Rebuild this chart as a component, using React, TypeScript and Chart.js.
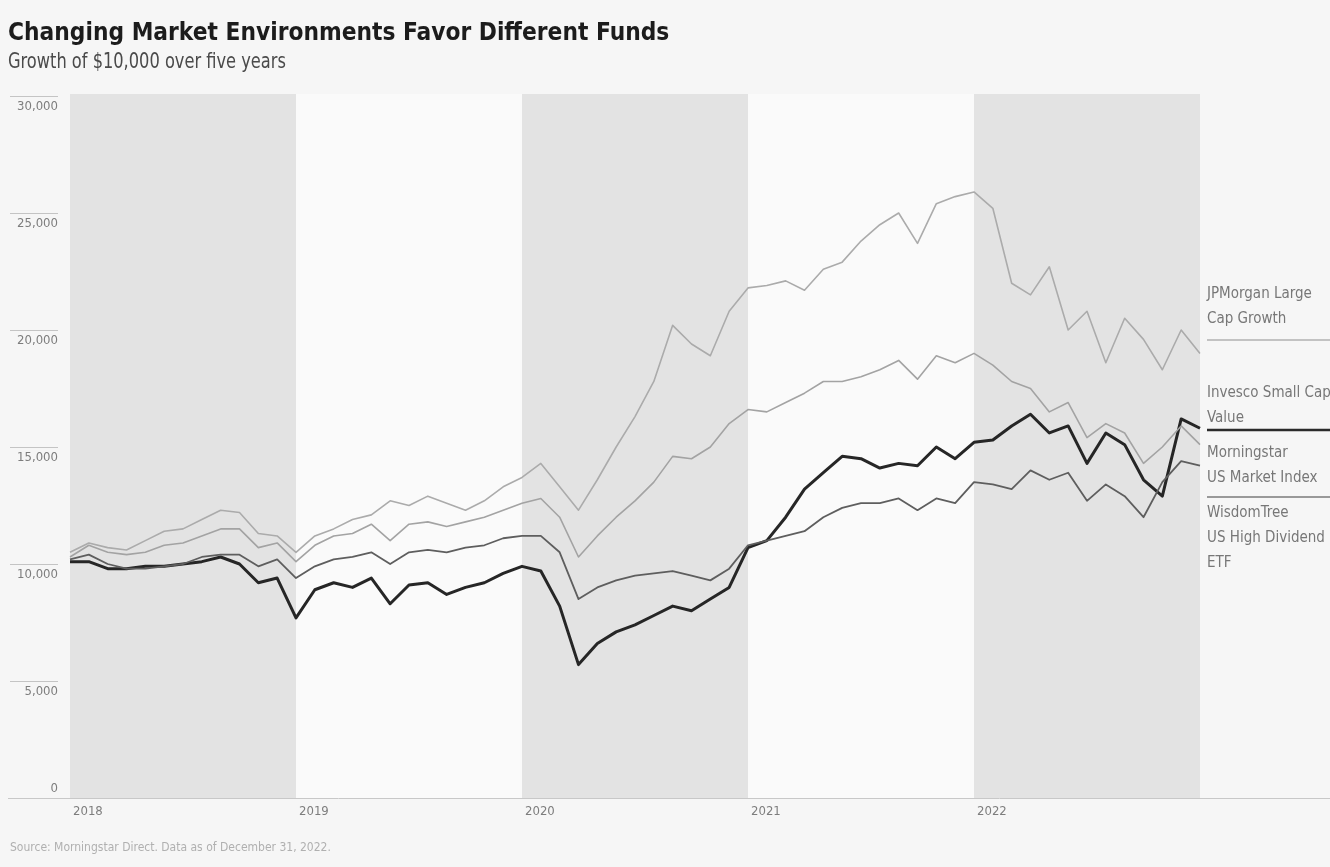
import React, { useEffect, useRef } from "react";
import { Chart, registerables } from "chart.js";

Chart.register(...registerables);

const FONT = '"Liberation Sans Narrow", "DejaVu Sans Condensed", "Roboto Condensed", "Arial Narrow", sans-serif';

const monthLabels = [
  "Dec 2017",
  "Jan 2018", "Feb 2018", "Mar 2018", "Apr 2018", "May 2018", "Jun 2018", "Jul 2018", "Aug 2018", "Sep 2018", "Oct 2018", "Nov 2018", "Dec 2018",
  "Jan 2019", "Feb 2019", "Mar 2019", "Apr 2019", "May 2019", "Jun 2019", "Jul 2019", "Aug 2019", "Sep 2019", "Oct 2019", "Nov 2019", "Dec 2019",
  "Jan 2020", "Feb 2020", "Mar 2020", "Apr 2020", "May 2020", "Jun 2020", "Jul 2020", "Aug 2020", "Sep 2020", "Oct 2020", "Nov 2020", "Dec 2020",
  "Jan 2021", "Feb 2021", "Mar 2021", "Apr 2021", "May 2021", "Jun 2021", "Jul 2021", "Aug 2021", "Sep 2021", "Oct 2021", "Nov 2021", "Dec 2021",
  "Jan 2022", "Feb 2022", "Mar 2022", "Apr 2022", "May 2022", "Jun 2022", "Jul 2022", "Aug 2022", "Sep 2022", "Oct 2022", "Nov 2022", "Dec 2022",
];

const yearLabels = ["2018", "2019", "2020", "2021", "2022"];
const yTickValues = [0, 5000, 10000, 15000, 20000, 25000, 30000];
const yTickLabels = ["0", "5,000", "10,000", "15,000", "20,000", "25,000", "30,000"];

const jpmLargeCapGrowth = [
  10500, 10900, 10700, 10600, 11000, 11400, 11500, 11900, 12300, 12200, 11300, 11200, 10500,
  11200, 11500, 11900, 12100, 12700, 12500, 12900, 12600, 12300, 12700, 13300, 13700,
  14300, 13300, 12300, 13600, 15000, 16300, 17800, 20200, 19400, 18900, 20800, 21800,
  21900, 22100, 21700, 22600, 22900, 23800, 24500, 25000, 23700, 25400, 25700, 25900,
  25200, 22000, 21500, 22700, 20000, 20800, 18600, 20500, 19600, 18300, 20000, 19000,
];

const morningstarUSMarket = [
  10300, 10800, 10500, 10400, 10500, 10800, 10900, 11200, 11500, 11500, 10700, 10900, 10100,
  10800, 11200, 11300, 11700, 11000, 11700, 11800, 11600, 11800, 12000, 12300, 12600,
  12800, 12000, 10300, 11200, 12000, 12700, 13500, 14600, 14500, 15000, 16000, 16600,
  16500, 16900, 17300, 17800, 17800, 18000, 18300, 18700, 17900, 18900, 18600, 19000,
  18500, 17800, 17500, 16500, 16900, 15400, 16000, 15600, 14300, 15000, 15900, 15100,
];

const wisdomTreeHighDividend = [
  10200, 10400, 10000, 9800, 9800, 9900, 10000, 10300, 10400, 10400, 9900, 10200, 9400,
  9900, 10200, 10300, 10500, 10000, 10500, 10600, 10500, 10700, 10800, 11100, 11200,
  11200, 10500, 8500, 9000, 9300, 9500, 9600, 9700, 9500, 9300, 9800, 10800,
  11000, 11200, 11400, 12000, 12400, 12600, 12600, 12800, 12300, 12800, 12600, 13500,
  13400, 13200, 14000, 13600, 13900, 12700, 13400, 12900, 12000, 13500, 14400, 14200,
];

const invescoSmallCapValue = [
  10100, 10100, 9800, 9800, 9900, 9900, 10000, 10100, 10300, 10000, 9200, 9400, 7700,
  8900, 9200, 9000, 9400, 8300, 9100, 9200, 8700, 9000, 9200, 9600, 9900,
  9700, 8200, 5700, 6600, 7100, 7400, 7800, 8200, 8000, 8500, 9000, 10700,
  11000, 12000, 13200, 13900, 14600, 14500, 14100, 14300, 14200, 15000, 14500, 15200,
  15300, 15900, 16400, 15600, 15900, 14300, 15600, 15100, 13600, 12900, 16200, 15800,
];

const legendItems = [
  { lines: ["JPMorgan Large", "Cap Growth"], top: 287, rule: 340, color: "#b0b0b0", width: 1.5 },
  { lines: ["Invesco Small Cap", "Value"], top: 386, rule: 430, color: "#2b2b2b", width: 2.5 },
  { lines: ["Morningstar", "US Market Index"], top: 446, rule: 497, color: "#7a7a7a", width: 1.5 },
  { lines: ["WisdomTree", "US High Dividend", "ETF"], top: 506, rule: 0, color: "#666", width: 0 },
];

const decorPlugin = {
  id: "decor",
  beforeDatasetsDraw(chart: any) {
    const { ctx, chartArea, scales } = chart;
    const xs = scales.x;
    ctx.save();
    for (let k = 0; k < yearLabels.length; k++) {
      const x0 = xs.getPixelForValue(k * 12);
      const x1 = xs.getPixelForValue((k + 1) * 12);
      ctx.fillStyle = k % 2 === 0 ? "#e3e3e3" : "#fafafa";
      ctx.fillRect(x0, chartArea.top - 2, x1 - x0, chartArea.bottom - chartArea.top + 2);
    }
    ctx.restore();
  },
  afterDraw(chart: any) {
    const { ctx, chartArea, scales } = chart;
    const xs = scales.x;
    const ys = scales.y;
    ctx.save();
    // y axis labels
    ctx.font = `13px ${FONT}`;
    ctx.fillStyle = "#7d7d7d";
    ctx.textAlign = "right";
    yTickValues.forEach((v, i) => {
      const y = Math.round(ys.getPixelForValue(v)) + 0.5;
      ctx.strokeStyle = "#c4c4c4";
      ctx.lineWidth = 1;
      ctx.beginPath();
      ctx.moveTo(10, y);
      ctx.lineTo(58, y);
      ctx.stroke();
      if (v === 0) {
        ctx.textBaseline = "bottom";
        ctx.fillText(yTickLabels[i], 58, y - 3);
      } else {
        ctx.textBaseline = "top";
        ctx.fillText(yTickLabels[i], 58, y + 4);
      }
    });
    // x axis line
    const yb = Math.round(chartArea.bottom) + 0.5;
    ctx.strokeStyle = "#c8c8c8";
    ctx.lineWidth = 1;
    ctx.beginPath();
    ctx.moveTo(8, yb);
    ctx.lineTo(1330, yb);
    ctx.stroke();
    // year labels
    ctx.textAlign = "left";
    ctx.textBaseline = "top";
    ctx.fillStyle = "#7d7d7d";
    yearLabels.forEach((lab, k) => {
      const x = xs.getPixelForValue(k * 12);
      ctx.fillText(lab, x + 3, chartArea.bottom + 7);
    });
    // right labels
    ctx.font = `15px ${FONT}`;
    ctx.fillStyle = "#777";
    legendItems.forEach((it) => {
      it.lines.forEach((t, j) => {
        ctx.fillText(t, chartArea.right + 7, it.top + j * 25);
      });
      if (it.rule) {
        ctx.strokeStyle = it.color;
        ctx.lineWidth = it.width;
        ctx.beginPath();
        ctx.moveTo(chartArea.right + 7, it.rule);
        ctx.lineTo(1330, it.rule);
        ctx.stroke();
      }
    });
    // source
    ctx.font = `12px ${FONT}`;
    ctx.fillStyle = "#b0b0b0";
    ctx.fillText("Source: Morningstar Direct. Data as of December 31, 2022.", 10, 842);
    ctx.restore();
  },
};

export default function App() {
  const canvasRef = useRef<HTMLCanvasElement | null>(null);

  useEffect(() => {
    document.body.style.margin = "0";
    document.body.style.background = "#f6f6f6";
    const canvas = canvasRef.current;
    if (!canvas) return;
    const chart = new Chart(canvas, {
      type: "line",
      data: {
        labels: monthLabels,
        datasets: [
          { label: "JPMorgan Large Cap Growth", data: jpmLargeCapGrowth, borderColor: "#ababab", borderWidth: 1.6 },
          { label: "Morningstar US Market Index", data: morningstarUSMarket, borderColor: "#a3a3a3", borderWidth: 1.6 },
          { label: "WisdomTree US High Dividend ETF", data: wisdomTreeHighDividend, borderColor: "#5e5e5e", borderWidth: 1.8 },
          { label: "Invesco Small Cap Value", data: invescoSmallCapValue, borderColor: "#262626", borderWidth: 3 },
        ],
      },
      options: {
        animation: false,
        responsive: false,
        layout: { padding: { left: 70, right: 130, top: 96, bottom: 69 } },
        elements: { point: { radius: 0 }, line: { tension: 0, borderJoinStyle: "round" } },
        scales: {
          x: { type: "category", display: false, offset: false },
          y: { type: "linear", display: false, min: 0, max: 30000 },
        },
        plugins: { legend: { display: false }, tooltip: { enabled: false } },
      },
      plugins: [decorPlugin],
    });
    return () => chart.destroy();
  }, []);

  return (
    <div style={{ position: "absolute", left: 0, top: 0, width: 1330, height: 867, background: "#f6f6f6", overflow: "hidden" }}>
      <canvas ref={canvasRef} width={1330} height={867} style={{ position: "absolute", left: 0, top: 0, width: 1330, height: 867 }} />
      <div style={{ position: "absolute", left: 8, top: 17, fontFamily: FONT, fontWeight: 700, fontSize: 25, color: "#1c1c1c", whiteSpace: "nowrap", transform: "scaleX(0.97)", transformOrigin: "left top" }}>
        Changing Market Environments Favor Different Funds
      </div>
      <div style={{ position: "absolute", left: 8, top: 48, fontFamily: FONT, fontSize: 22, color: "#4a4a4a", whiteSpace: "nowrap", transform: "scaleX(0.82)", transformOrigin: "left top" }}>
        Growth of $10,000 over five years
      </div>
    </div>
  );
}
